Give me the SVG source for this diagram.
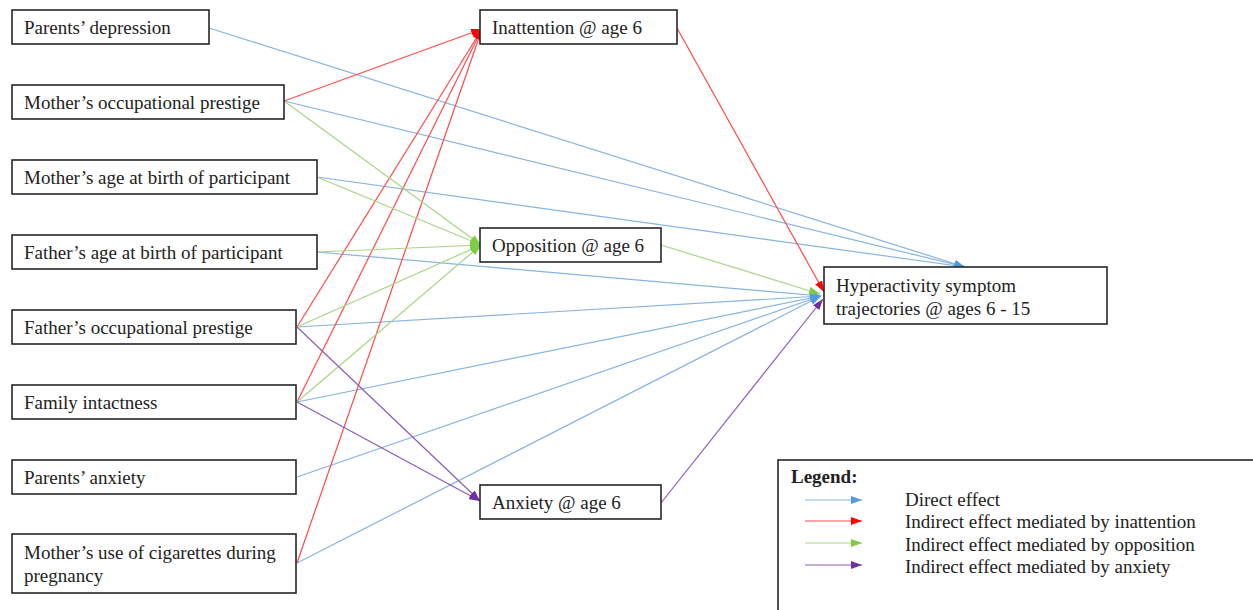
<svg xmlns="http://www.w3.org/2000/svg" width="1253" height="610" viewBox="0 0 1253 610">
<defs>
<style>
.box{fill:#fff;stroke:#262626;stroke-width:1.6}
.t{font-family:"Liberation Serif","Times New Roman",serif;font-size:19px;fill:#222}
.lt{font-family:"Liberation Serif","Times New Roman",serif;font-size:19px;fill:#222}
.c{fill:none;stroke-width:1.2}
.b{stroke:#86b4e2}
.r{stroke:#ff4a4a}
.g{stroke:#a8d585}
.p{stroke:#8b5bbd}
</style>
<marker id="ab" markerWidth="11" markerHeight="8" refX="11" refY="4" orient="auto" markerUnits="userSpaceOnUse"><path d="M0,0 L11,4 L0,8 Z" fill="#4f9ae0"/></marker>
<marker id="ar" markerWidth="11" markerHeight="8" refX="11" refY="4" orient="auto" markerUnits="userSpaceOnUse"><path d="M0,0 L11,4 L0,8 Z" fill="#ff0000"/></marker>
<marker id="ag" markerWidth="11" markerHeight="8" refX="11" refY="4" orient="auto" markerUnits="userSpaceOnUse"><path d="M0,0 L11,4 L0,8 Z" fill="#7ccc45"/></marker>
<marker id="ap" markerWidth="11" markerHeight="8" refX="11" refY="4" orient="auto" markerUnits="userSpaceOnUse"><path d="M0,0 L11,4 L0,8 Z" fill="#7030a0"/></marker>
</defs>
<rect width="1253" height="610" fill="#fff"/>
<g id="connectors">
<line class="c b" x1="209" y1="28" x2="965" y2="267" marker-end="url(#ab)"/>
<line class="c b" x1="284" y1="101" x2="965" y2="267" marker-end="url(#ab)"/>
<line class="c b" x1="317" y1="177" x2="965" y2="267" marker-end="url(#ab)"/>
<line class="c b" x1="317" y1="252" x2="821" y2="296" marker-end="url(#ab)"/>
<line class="c b" x1="297" y1="327" x2="821" y2="296" marker-end="url(#ab)"/>
<line class="c b" x1="297" y1="402" x2="821" y2="296" marker-end="url(#ab)"/>
<line class="c b" x1="297" y1="477" x2="821" y2="296" marker-end="url(#ab)"/>
<line class="c b" x1="297" y1="563" x2="821" y2="296" marker-end="url(#ab)"/>
<line class="c r" x1="284" y1="101" x2="482" y2="29" marker-end="url(#ar)"/>
<line class="c r" x1="297" y1="327" x2="482" y2="29" marker-end="url(#ar)"/>
<line class="c r" x1="297" y1="402" x2="482" y2="29" marker-end="url(#ar)"/>
<line class="c r" x1="297" y1="563" x2="482" y2="29" marker-end="url(#ar)"/>
<line class="c r" x1="677" y1="28" x2="824" y2="292" marker-end="url(#ar)"/>
<line class="c g" x1="284" y1="101" x2="481" y2="245" marker-end="url(#ag)"/>
<line class="c g" x1="317" y1="177" x2="481" y2="245" marker-end="url(#ag)"/>
<line class="c g" x1="317" y1="252" x2="481" y2="245" marker-end="url(#ag)"/>
<line class="c g" x1="297" y1="327" x2="481" y2="245" marker-end="url(#ag)"/>
<line class="c g" x1="297" y1="402" x2="481" y2="245" marker-end="url(#ag)"/>
<line class="c g" x1="661" y1="245" x2="820" y2="294" marker-end="url(#ag)"/>
<line class="c p" x1="297" y1="327" x2="480" y2="501" marker-end="url(#ap)"/>
<line class="c p" x1="297" y1="402" x2="480" y2="501" marker-end="url(#ap)"/>
<line class="c p" x1="661" y1="503" x2="823" y2="299" marker-end="url(#ap)"/>
</g>
<g id="n-parents-depression"><rect class="box" x="12" y="10" width="197" height="34"/><text class="t" x="24" y="34">Parents’ depression</text></g>
<g id="n-mother-occ"><rect class="box" x="12" y="85" width="272" height="34"/><text class="t" x="24" y="109">Mother’s occupational prestige</text></g>
<g id="n-mother-age"><rect class="box" x="12" y="160" width="305" height="34"/><text class="t" x="24" y="184">Mother’s age at birth of participant</text></g>
<g id="n-father-age"><rect class="box" x="12" y="235" width="305" height="34"/><text class="t" x="24" y="259">Father’s age at birth of participant</text></g>
<g id="n-father-occ"><rect class="box" x="12" y="310" width="284" height="34"/><text class="t" x="24" y="334">Father’s occupational prestige</text></g>
<g id="n-family"><rect class="box" x="12" y="385" width="284" height="34"/><text class="t" x="24" y="409">Family intactness</text></g>
<g id="n-parents-anxiety"><rect class="box" x="12" y="460" width="284" height="34"/><text class="t" x="24" y="484">Parents’ anxiety</text></g>
<g id="n-cigarettes"><rect class="box" x="12" y="534" width="284" height="59"/><text class="t" x="24" y="559">Mother’s use of cigarettes  during</text><text class="t" x="24" y="582">pregnancy</text></g>
<g id="n-inattention"><rect class="box" x="480" y="10" width="197" height="34"/><text class="t" x="492" y="34">Inattention @ age 6</text></g>
<g id="n-opposition"><rect class="box" x="480" y="228" width="181" height="34"/><text class="t" x="492" y="252">Opposition @ age 6</text></g>
<g id="n-anxiety"><rect class="box" x="480" y="485" width="181" height="34"/><text class="t" x="492" y="509">Anxiety @ age 6</text></g>
<g id="n-target"><rect class="box" x="824" y="267" width="283" height="57"/><text class="t" x="836" y="292">Hyperactivity  symptom</text><text class="t" x="836" y="315">trajectories @ ages 6 - 15</text></g>
<g id="legend">
<rect class="box" x="778" y="460" width="500" height="200"/>
<text class="lt" x="791" y="483" font-weight="bold">Legend:</text>
<line class="c b" x1="805" y1="500" x2="862" y2="500" marker-end="url(#ab)"/>
<line class="c r" x1="805" y1="521" x2="862" y2="521" marker-end="url(#ar)"/>
<line class="c g" x1="805" y1="543" x2="862" y2="543" marker-end="url(#ag)"/>
<line class="c p" x1="805" y1="565" x2="862" y2="565" marker-end="url(#ap)"/>
<text class="lt" x="905" y="506">Direct effect</text>
<text class="lt" x="905" y="528">Indirect effect mediated by inattention</text>
<text class="lt" x="905" y="551">Indirect effect mediated by opposition</text>
<text class="lt" x="905" y="573">Indirect effect mediated by anxiety</text>
</g>
</svg>
